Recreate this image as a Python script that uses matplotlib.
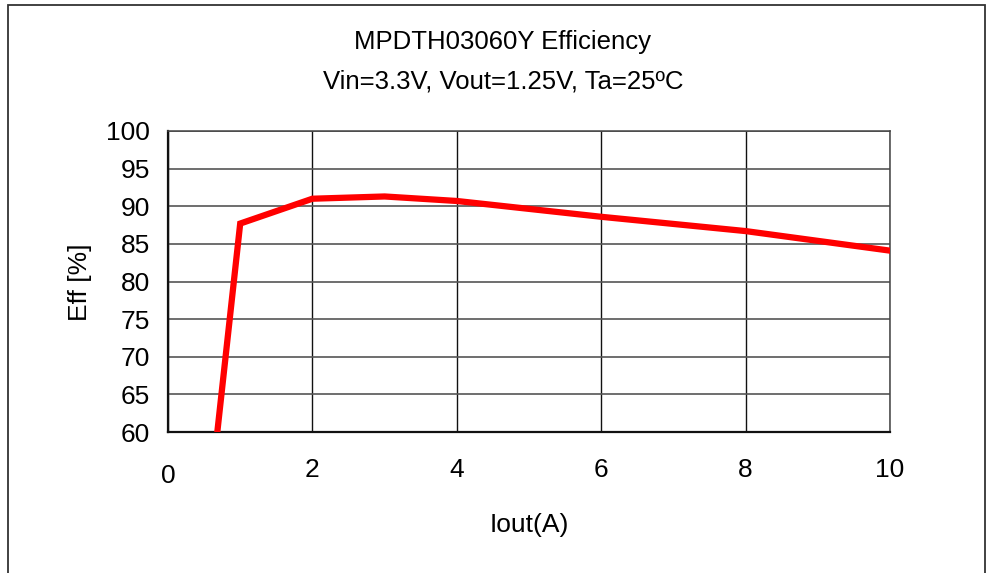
import matplotlib
matplotlib.use("Agg")
import matplotlib.pyplot as plt
import matplotlib.transforms as mtransforms
from matplotlib.patches import Rectangle

# efficiency curve
iout = [0.5, 1, 2, 3, 4, 6, 8, 10]
eff = [44.0, 87.7, 91.0, 91.3, 90.7, 88.6, 86.7, 84.1]

x_ticks = [0, 2, 4, 6, 8, 10]
y_ticks = [60, 65, 70, 75, 80, 85, 90, 95, 100]

title_1 = "MPDTH03060Y Efficiency"
title_2 = "Vin=3.3V, Vout=1.25V, Ta=25ºC"

plt.rcParams['font.family'] = ['Liberation Sans', 'DejaVu Sans']

W, H = 986, 573
fig = plt.figure(figsize=(W / 100, H / 100), dpi=100)
ax = fig.add_axes([168 / W, 1 - 432 / H, 722 / W, 301 / H])

# outer frame of the picture
fig.patches.append(Rectangle((8 / W, -0.02), 977 / W, 1.02 - 5 / H, transform=fig.transFigure,
                             fill=False, edgecolor='#333333', linewidth=1.3))

ax.plot(iout, eff, color='#ff0000', linewidth=4.5, solid_joinstyle='miter', zorder=3)

ax.set_xlim(0, 10)
ax.set_ylim(60, 100)
ax.set_xticks(x_ticks)
ax.set_yticks(y_ticks)
ax.set_xticklabels([str(t) for t in x_ticks], fontsize=19)
ax.set_yticklabels([str(t) for t in y_ticks], fontsize=19)
ax.tick_params(axis='x', length=0, pad=19)
ax.tick_params(axis='y', length=0, pad=13)

# the "0" label sits a little lower than the others
lbl0 = ax.get_xticklabels()[0]
lbl0.set_transform(lbl0.get_transform() + mtransforms.ScaledTranslation(0, -6 / 100, fig.dpi_scale_trans))

ax.xaxis.grid(True, color='#111111', linewidth=1.0)
ax.yaxis.grid(True, color='#555555', linewidth=1.2)
ax.set_axisbelow(True)

for side in ['left', 'bottom']:
    ax.spines[side].set_color('#111111')
    ax.spines[side].set_linewidth(1.6)
for side in ['top', 'right']:
    ax.spines[side].set_color('#444444')
    ax.spines[side].set_linewidth(1.1)

fig.text(503 / W, 1 - 42 / H, title_1, ha='center', va='center', fontsize=18.5)
fig.text(503 / W, 1 - 82 / H, title_2, ha='center', va='center', fontsize=18.5)
fig.text(80 / W, 1 - 282 / H, "Eff [%]", ha='center', va='center', rotation=90, fontsize=19)
fig.text(529 / W, 1 - 525 / H, "Iout(A)", ha='center', va='center', fontsize=19)

fig.savefig("out.png", dpi=100)
